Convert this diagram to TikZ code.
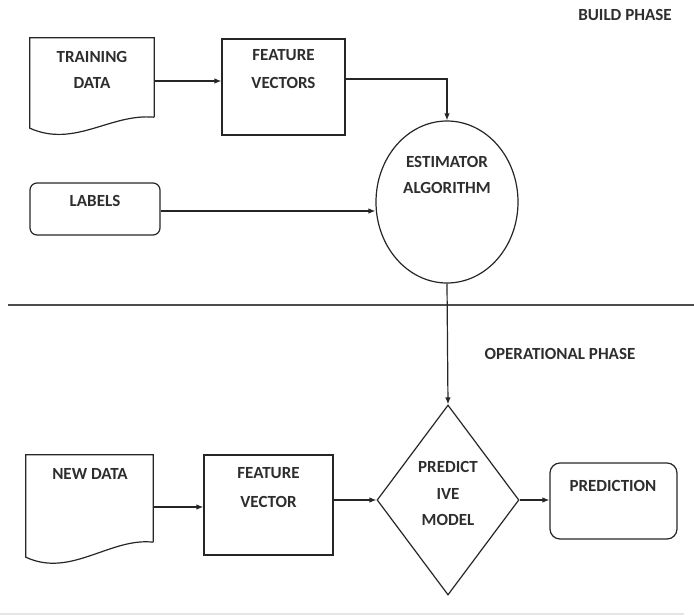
\documentclass[tikz,border=0pt]{standalone}
\usepackage{fontspec}
\setmainfont{Carlito}
\usetikzlibrary{shapes.geometric,arrows.meta}
\begin{document}
\begin{tikzpicture}[x=1pt,y=-1pt,
  ln/.style={draw=black!85, line width=1.2pt},
  txt/.style={font=\bfseries\fontsize{17}{26}\selectfont, text=black!82, align=center, inner sep=0pt},
  arr/.style={ln, -{Latex[length=7pt,width=5.5pt]}},
  boxshape/.style={ln, rectangle, inner sep=0pt},
  docshape/.style={draw=none, rectangle, inner sep=0pt}]
\useasboundingbox (0,0) rectangle (694,616);

% phase labels and separator
\node[txt] (build) at (625,15) {BUILD PHASE};
\node[txt] (oper) at (560,354) {OPERATIONAL PHASE};
\coordinate (sepL) at (8,305);
\coordinate (sepR) at (694,305);
\draw[ln, draw=black!70] (sepL) -- (sepR);
\coordinate (botL) at (0,614);
\coordinate (botR) at (684,614);
\draw[draw=black!10, line width=1.5pt] (botL) -- (botR);

% build phase
\node[docshape, minimum width=124pt, minimum height=79pt] (td) at (92,77.5) {};
\draw[ln] (td.south east) -- (td.north east) -- (td.north west) -- ([yshift=-11pt]td.south west)
  .. controls ([xshift=45pt,yshift=-31pt]td.south west) and ([xshift=-44pt,yshift=4pt]td.south east) .. (td.south east);
\node[txt] (tdt) at (92,70) {TRAINING\\DATA};

\node[boxshape, minimum width=123pt, minimum height=96pt] (fv) at (283.5,87) {};
\node[txt, font=\bfseries\fontsize{17}{28}\selectfont] (fvt) at (283.5,69) {FEATURE\\VECTORS};

\node[ln, ellipse, minimum width=142pt, minimum height=162pt, inner sep=0pt] (est) at (447,202) {};
\node[txt] (estt) at (447,175) {ESTIMATOR\\ALGORITHM};

\node[boxshape, rounded corners=7pt, minimum width=130pt, minimum height=52pt] (lab) at (95,209) {};
\node[txt] (labt) at (95,201) {LABELS};

\draw[arr] ([yshift=-3.5pt]td.east) -- ([yshift=-3.5pt]td.east -| fv.west);
\draw[arr] ([yshift=8pt]fv.east) -| (est.north);
\draw[arr] ([yshift=-2pt]lab.east) -- ([yshift=-2pt]lab.east -| est.west);

% operational phase
\node[ln, diamond, minimum width=142pt, minimum height=190pt, inner sep=0pt, aspect=0.75] (dia) at (448,500) {};
\node[txt, font=\bfseries\fontsize{17}{26.5}\selectfont] (diat) at (448,493.5) {PREDICT\\IVE\\MODEL};

\draw[arr] (est.south) -- (dia.north);

\node[docshape, minimum width=127pt, minimum height=87pt] (nd) at (89.5,498.5) {};
\draw[ln] (nd.south east) -- (nd.north east) -- (nd.north west) -- ([yshift=-15pt]nd.south west)
  .. controls ([xshift=45pt,yshift=-36pt]nd.south west) and ([xshift=-43pt,yshift=5pt]nd.south east) .. (nd.south east);
\node[txt] (ndt) at (90,474) {NEW DATA};

\node[boxshape, minimum width=129pt, minimum height=100pt] (fv2) at (268.5,505) {};
\node[txt, font=\bfseries\fontsize{17}{29}\selectfont] (fv2t) at (268.5,487.5) {FEATURE\\VECTOR};

\node[boxshape, rounded corners=10pt, minimum width=127pt, minimum height=76pt] (pred) at (613.5,501) {};
\node[txt] (predt) at (613,486) {PREDICTION};

\draw[arr] ([yshift=-8.5pt]nd.east) -- ([yshift=-8.5pt]nd.east -| fv2.west);
\draw[arr] (fv2.east |- dia.west) -- (dia.west);
\draw[arr] (dia.east) -- (dia.east -| pred.west);
\end{tikzpicture}
\end{document}
